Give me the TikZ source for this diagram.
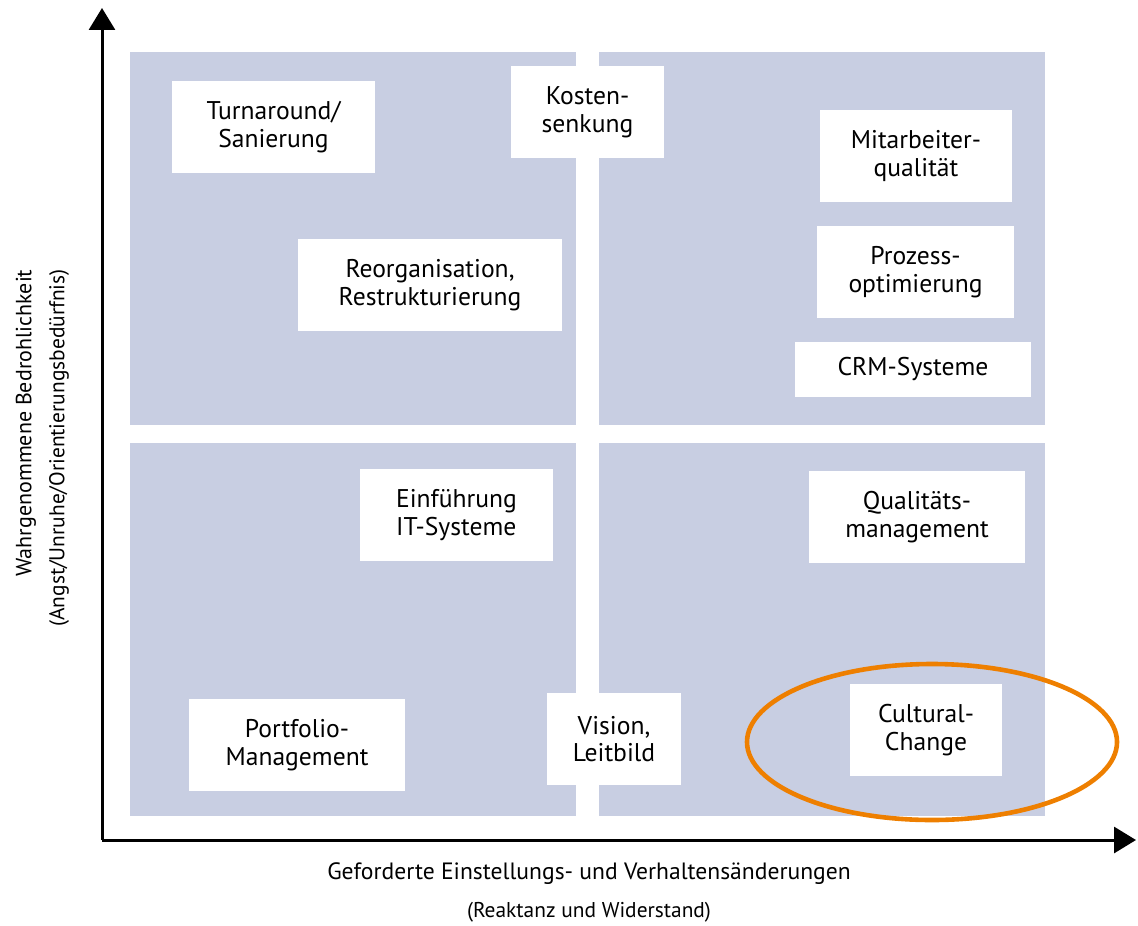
\documentclass[tikz,border=0pt]{standalone}
\usepackage{fontspec}
\setmainfont{PT Sans}
\usetikzlibrary{arrows.meta}
\definecolor{feldblau}{HTML}{C8CEE2}
\definecolor{kreisorange}{HTML}{EE7F00}

\tikzstyle{feld} = [rectangle, fill=feldblau, inner sep=0pt, minimum width=223pt, minimum height=186.5pt]
\tikzstyle{karte} = [rectangle, fill=white, inner sep=0pt, minimum height=46pt, align=center, font=\fontsize{12.8}{13.8}\selectfont]
\tikzstyle{achse} = [line width=1.5pt, -{Triangle[length=11pt,width=13pt]}]

\begin{document}
\begin{tikzpicture}[x=0.5pt, y=-0.5pt]
  \tikzset{titel/.style={font=\fontsize{11.8}{13}\selectfont}, untertitel/.style={font=\fontsize{10.7}{12}\selectfont}}
  \useasboundingbox (0,0) rectangle (1138,925);

  \node (TL) [feld] at (353,238.5) {};
  \node (TR) [feld] at (821.5,238.5) {};
  \node (BL) [feld] at (353,629.5) {};
  \node (BR) [feld] at (821.5,629.5) {};

  \node (TS) [karte, minimum width=101.5pt] at (273.5,127) {Turnaround/\\Sanierung};
  \node (KS) [karte, minimum width=76.5pt] at (587.5,112) {Kosten-\\senkung};
  \node (MQ) [karte, minimum width=96pt] at (916,156) {Mitarbeiter-\\qualität};
  \node (RR) [karte, minimum width=132pt] at (430,285) {Reorganisation,\\Restrukturierung};
  \node (PO) [karte, minimum width=98.5pt] at (915.5,272) {Prozess-\\optimierung};
  \node (CRM) [karte, minimum width=118pt, minimum height=27.5pt] at (913,369.5) {CRM-Systeme};
  \node (EIT) [karte, minimum width=96.5pt, align=left] at (456.5,515) {Einführung\\IT-Systeme};
  \node (QM) [karte, minimum width=108pt] at (917,517) {Qualitäts-\\management};
  \node (PM) [karte, minimum width=108pt] at (297,745) {Portfolio-\\Management};
  \node (VL) [karte, minimum width=67pt] at (614,739) {Vision,\\Leitbild};
  \node (CC) [karte, minimum width=76pt] at (926,730) {Cultural-\\Change};

  \coordinate (O) at (102,840);
  \coordinate (Y) at (102,8);
  \coordinate (X) at (1136,840);
  \draw[achse] (O) -- (Y);
  \draw[achse] (O) -- (X);

  \draw[kreisorange, line width=2.3pt] (932,742) ellipse [x radius=92.5pt, y radius=39pt];

  \node (XT) [titel] at (589,874) {Geforderte Einstellungs- und Verhaltensänderungen};
  \node (XU) [untertitel] at (589,912) {(Reaktanz und Widerstand)};
  \node (YT) [titel, font=\fontsize{11}{13}\selectfont, rotate=90] at (26,423) {Wahrgenommene Bedrohlichkeit};
  \node (YU) [untertitel, rotate=90] at (59,448) {(Angst/Unruhe/Orientierungsbedürfnis)};
\end{tikzpicture}
\end{document}
